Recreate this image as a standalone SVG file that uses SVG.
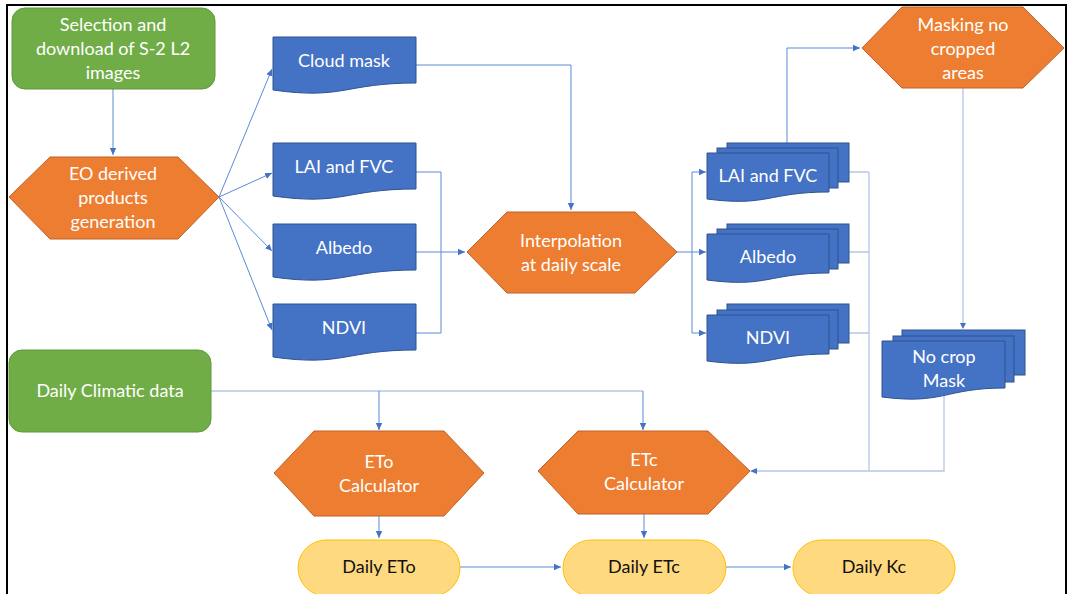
<svg xmlns="http://www.w3.org/2000/svg" width="1070" height="594" viewBox="0 0 1070 594">
<style>
.t{font-family:Lato,"Open Sans","Liberation Sans",sans-serif;font-size:18px;fill:#fff;text-anchor:middle}
.k{fill:#111}
.g{fill:#70AD47;stroke:#5E9A3A;stroke-width:1}
.o{fill:#ED7D31;stroke:#C0612A;stroke-width:1}
.b{fill:#4472C4;stroke:#2F528F;stroke-width:1}
.y{fill:#FFD980;stroke:#FFC000;stroke-width:1}
.c{fill:none;stroke:#5B8BD6;stroke-width:1}
.l{fill:none;stroke:#B4C7E7;stroke-width:1.3}
</style>
<defs>
<marker id="a" markerWidth="8" markerHeight="8" refX="7" refY="4" orient="auto" markerUnits="userSpaceOnUse">
<path d="M0,0.8 L7,4 L0,7.2 Z" fill="#4472C4"/>
</marker>
</defs>
<rect x="7" y="5" width="1059" height="600" fill="#fff" stroke="#000" stroke-width="2"/>

<g id="connectors">
<path class="c" d="M113,89 V155" marker-end="url(#a)"/>
<path class="c" d="M219,197 L272,69" marker-end="url(#a)"/>
<path class="c" d="M219,197 L272,173" marker-end="url(#a)"/>
<path class="c" d="M219,197 L272,251" marker-end="url(#a)"/>
<path class="c" d="M219,197 L272,330" marker-end="url(#a)"/>
<path class="c" d="M416,65 H571 V210" marker-end="url(#a)"/>
<path class="c" d="M416,172 H441 V333 H416"/>
<path class="c" d="M416,252 H465" marker-end="url(#a)"/>
<path class="c" d="M677,252 H692"/>
<path class="c" d="M692,172 V333"/>
<path class="c" d="M692,172 H706" marker-end="url(#a)"/>
<path class="c" d="M692,252 H706" marker-end="url(#a)"/>
<path class="c" d="M692,333 H706" marker-end="url(#a)"/>
<path class="c" d="M787,143 V48 H860" marker-end="url(#a)"/>
<path class="l" d="M963,88 V328"/>
<path d="M963,329 L960,323 L966,323 Z" fill="#4472C4"/>
<path class="l" d="M849,172 H869 M849,252 H869 M849,333 H869 M869,172 V471"/>
<path class="l" d="M944,393 V471 H752"/>
<path d="M750,471 L757,468 L757,474 Z" fill="#4472C4"/>
<path class="l" d="M211,391 H643"/>
<path class="c" d="M379,391 V430" marker-end="url(#a)"/>
<path class="c" d="M643,391 V430" marker-end="url(#a)"/>
<path class="c" d="M379,516 V538" marker-end="url(#a)"/>
<path class="c" d="M644,514 V538" marker-end="url(#a)"/>
<path class="c" d="M460,567 H561" marker-end="url(#a)"/>
<path class="c" d="M726,567 H791" marker-end="url(#a)"/>
</g>

<g id="n-selection">
<rect class="g" x="12" y="8" width="203" height="81" rx="13"/>
<text class="t" x="113" y="31">Selection and</text>
<text class="t" x="113" y="55">download of S-2 L2</text>
<text class="t" x="113" y="79">images</text>
</g>

<g id="n-eo">
<polygon class="o" points="9,197 50,157 178,157 219,197 178,239 50,239"/>
<text class="t" x="113" y="180">EO derived</text>
<text class="t" x="113" y="204">products</text>
<text class="t" x="113" y="228">generation</text>
</g>

<g id="n-cloud">
<path class="b" d="M273,37 H416 V83 C344,83 344,100 273,90 Z"/>
<text class="t" x="344" y="67">Cloud mask</text>
</g>
<g id="n-lai">
<path class="b" d="M273,143 H416 V189 C344,189 344,206 273,196 Z"/>
<text class="t" x="344" y="173">LAI and FVC</text>
</g>
<g id="n-albedo">
<path class="b" d="M273,224 H416 V270 C344,270 344,287 273,277 Z"/>
<text class="t" x="344" y="254">Albedo</text>
</g>
<g id="n-ndvi">
<path class="b" d="M273,304 H416 V350 C344,350 344,367 273,357 Z"/>
<text class="t" x="344" y="334">NDVI</text>
</g>

<g id="n-interp">
<polygon class="o" points="467,252 507,212 635,212 677,252 635,293 507,293"/>
<text class="t" x="571" y="247">Interpolation</text>
<text class="t" x="571" y="271">at daily scale</text>
</g>

<g id="n-lai-stack">
<rect class="b" x="727" y="143" width="122" height="39"/>
<rect class="b" x="717" y="148" width="121" height="40"/>
<path class="b" d="M707,153 H829 V192 C768,192 768,207 707,199 Z"/>
<text class="t" x="768" y="182">LAI and FVC</text>
</g>
<g id="n-albedo-stack">
<rect class="b" x="727" y="224" width="122" height="39"/>
<rect class="b" x="717" y="229" width="121" height="40"/>
<path class="b" d="M707,234 H829 V273 C768,273 768,288 707,280 Z"/>
<text class="t" x="768" y="263">Albedo</text>
</g>
<g id="n-ndvi-stack">
<rect class="b" x="727" y="304" width="122" height="39"/>
<rect class="b" x="717" y="310" width="121" height="39"/>
<path class="b" d="M707,315 H829 V354 C768,354 768,369 707,361 Z"/>
<text class="t" x="768" y="344">NDVI</text>
</g>

<g id="n-masking">
<polygon class="o" points="862,48 902,7 1023,7 1064,48 1023,88 902,88"/>
<text class="t" x="963" y="31">Masking no</text>
<text class="t" x="963" y="55">cropped</text>
<text class="t" x="963" y="79">areas</text>
</g>

<g id="n-nocrop">
<rect class="b" x="902" y="330" width="123" height="45"/>
<rect class="b" x="893" y="336" width="121" height="46"/>
<path class="b" d="M882,341 H1005 V388 C944,388 944,405 882,397 Z"/>
<text class="t" x="944" y="363">No crop</text>
<text class="t" x="944" y="387">Mask</text>
</g>

<g id="n-climatic">
<rect class="g" x="9" y="350" width="202" height="82" rx="13"/>
<text class="t" x="110" y="397">Daily Climatic data</text>
</g>

<g id="n-eto">
<polygon class="o" points="274,473 314,431 444,431 484,473 444,516 314,516"/>
<text class="t" x="379" y="468">ETo</text>
<text class="t" x="379" y="492">Calculator</text>
</g>

<g id="n-etc">
<polygon class="o" points="538,471 578,431 708,431 750,471 708,514 578,514"/>
<text class="t" x="644" y="466">ETc</text>
<text class="t" x="644" y="490">Calculator</text>
</g>

<g id="n-daily-eto">
<rect class="y" x="298" y="540" width="162" height="56" rx="28"/>
<text class="t k" x="379" y="573">Daily ETo</text>
</g>
<g id="n-daily-etc">
<rect class="y" x="563" y="540" width="163" height="56" rx="28"/>
<text class="t k" x="644" y="573">Daily ETc</text>
</g>
<g id="n-daily-kc">
<rect class="y" x="793" y="540" width="162" height="56" rx="28"/>
<text class="t k" x="874" y="573">Daily Kc</text>
</g>
</svg>
